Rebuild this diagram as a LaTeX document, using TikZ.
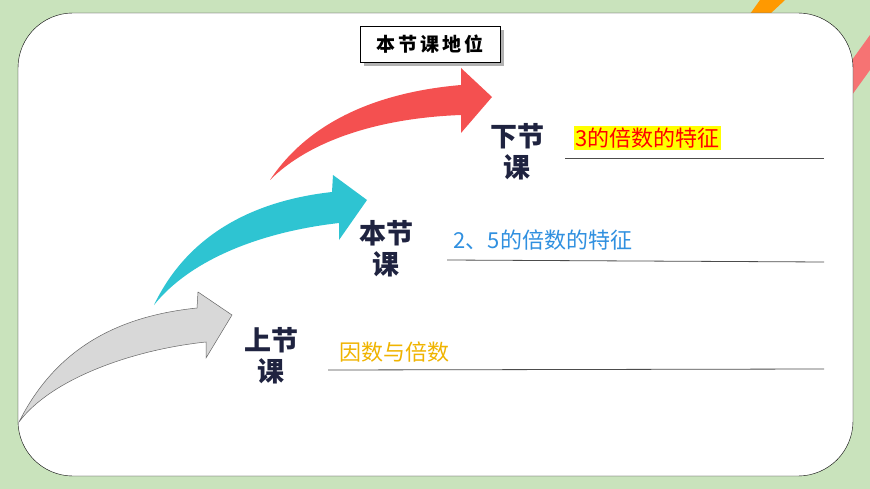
\documentclass[tikz,border=0pt]{standalone}
\usepackage{fontspec}
\newfontfamily\cjk{Noto Sans CJK SC}
\definecolor{bggreen}{HTML}{C9E3BC}
\definecolor{navy}{HTML}{1F2340}
\definecolor{arrowred}{HTML}{F45050}
\definecolor{arrowcyan}{HTML}{2EC4D2}
\definecolor{arrowgray}{HTML}{D8D8D8}
\definecolor{txtorange}{HTML}{F0B400}
\definecolor{txtblue}{HTML}{3090E0}
\definecolor{hlyellow}{HTML}{FFFF00}
\tikzset{
  lesson/.style={font=\cjk\bfseries\fontsize{27}{31}\selectfont, text=navy, align=center, inner sep=0pt},
  topic/.style={font=\cjk\fontsize{22}{24}\selectfont, anchor=west, inner sep=1.5pt},
  rule/.style={draw=black!70, line width=0.8pt}
}
\begin{document}
\begin{tikzpicture}[x=1pt,y=-1pt]
\useasboundingbox (0,0) rectangle (870,489);
\fill [bggreen] (0,0) rectangle (870,489);
\fill [orange!80!yellow] (760,0) -- (785,0) -- (770,14) -- (750,14) -- cycle;
\fill [arrowred!80] (852,60) -- (870,35) -- (870,70) -- (852,95) -- cycle;
\draw [black, fill=white, rounded corners=55pt] (18,13) rectangle (853,476);
\fill [black!30] (364,30) rectangle (504,66);
\draw [black, fill=white] (360,26) rectangle (500,62);
\node (title) at (430,44) {\cjk\bfseries\fontsize{19}{21}\selectfont 本\,节\,课\,地\,位};
\fill [arrowgray] (19,422) .. controls (60,340) and (130,315) .. (197,308) -- (198,292) -- (232,315) -- (206,358) -- (206,342) .. controls (130,350) and (50,380) .. cycle;
\draw [black!60, line width=0.5pt] (19,422) .. controls (60,340) and (130,315) .. (197,308) -- (198,292) -- (232,315) -- (206,358) -- (206,342) .. controls (130,350) and (50,380) .. cycle;
\fill [arrowcyan] (154,305) .. controls (190,230) and (260,200) .. (332,192) -- (333,175) -- (367,200) -- (339,240) -- (339,223) .. controls (260,232) and (190,260) .. cycle;
\fill [arrowred] (270,180) .. controls (310,120) and (380,92) .. (461,85) -- (461,68) -- (492,97) -- (461,133) -- (461,115) .. controls (380,118) and (310,140) .. cycle;
\node [lesson] (prev) at (271,356) {上节\\课};
\node [lesson] (this) at (386,249) {本节\\课};
\node [lesson] (next) at (517,152) {下节\\课};
\node [topic, text=txtorange] (prevtopic) at (338,352) {因数与倍数};
\node [topic, text=txtblue] (thistopic) at (452,240) {2、5的倍数的特征};
\node [topic, text=red, fill=hlyellow] (nexttopic) at (574,138) {3的倍数的特征};
\draw [rule] (328,370) -- (824,369);
\draw [rule] (447,260) -- (824,262);
\draw [rule] (565,158) -- (824,158);
\end{tikzpicture}
\end{document}
